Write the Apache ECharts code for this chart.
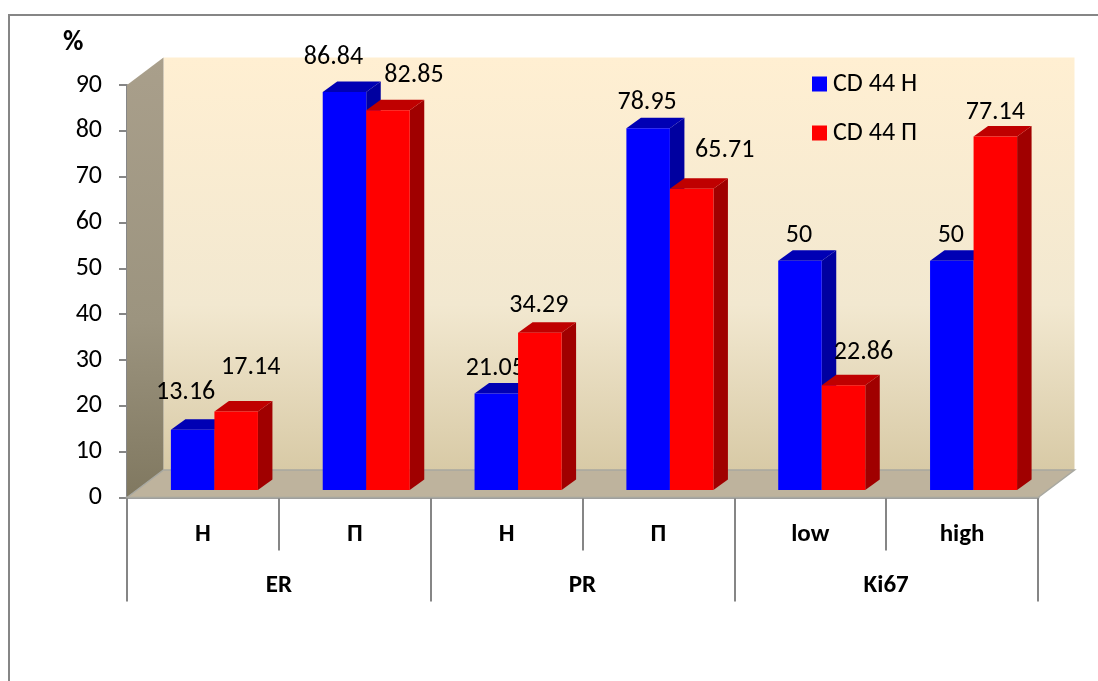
<!DOCTYPE html>
<html>
<head>
<meta charset="utf-8">
<style>html,body{margin:0;padding:0;background:#fff}#chart{width:1098px;height:681px}</style>
<script src="https://cdn.jsdelivr.net/npm/echarts@6/dist/echarts.min.js"></script>
</head>
<body>
<div id="chart"></div>
<script>
// Share of CD44 status across receptor and Ki67 subgroups
const categories = ['Н', 'П', 'Н', 'П', 'low', 'high'];
const groups = ['ER', 'PR', 'Ki67'];
const negativeValues = [13.16, 86.84, 21.05, 78.95, 50, 50];
const positiveValues = [17.14, 82.85, 34.29, 65.71, 22.86, 77.14];
const yTicksMax = 90;

// Hand-placed value labels: pixels away from the top centre of each bar's face
const negativeLabelShift = [[-7,-37],[-11,-34],[-1,-25],[-1,-26],[-1,-25],[-1,-25]];
const positiveLabelShift = [[14.5,-44],[26,-35],[-1,-27],[33,-38],[20,-33],[0,-24]];

const FONT = 'Carlito, Lato, "Open Sans", sans-serif';
const DEPTH_X = 36.5, DEPTH_Y = 27.5;      // box depth on screen
const BAR_DX = 14.5, BAR_DY = 10.5;        // bar depth on screen
const PLANE_DX = 0.0757, PLANE_DY = 7.5;   // bars stand forward of the back wall
const BAR_W = 0.2866;                      // bar width as a share of the band

function poly(points, fill) {
  return { type: 'polygon', shape: { points }, style: { fill } };
}

// Back wall, side wall and floor of the box, taken from the grid rectangle
function renderBox(params) {
  const c = params.coordSys, l = c.x, t = c.y, r = c.x + c.width, b = c.y + c.height;
  const vertical = (stops) => ({ type: 'linear', x: 0, y: 0, x2: 0, y2: 1, colorStops: stops });
  const wall = poly([[l + DEPTH_X, t - DEPTH_Y], [r + DEPTH_X, t - DEPTH_Y], [r + DEPTH_X, b - DEPTH_Y], [l + DEPTH_X, b - DEPTH_Y]],
    vertical([{ offset: 0, color: '#FFEFD2' }, { offset: 0.6, color: '#F2E8D0' }, { offset: 1, color: '#D8CAA6' }]));
  const side = poly([[l, t], [l + DEPTH_X, t - DEPTH_Y], [l + DEPTH_X, b - DEPTH_Y], [l, b]],
    vertical([{ offset: 0, color: '#A99F8B' }, { offset: 0.6, color: '#9C947F' }, { offset: 1, color: '#807860' }]));
  const floor = poly([[l, b], [l + DEPTH_X, b - DEPTH_Y], [r + DEPTH_X, b - DEPTH_Y], [r, b]], '#BEB39D');
  floor.style.stroke = '#A8A8A0';
  floor.style.lineWidth = 1.5;
  return { type: 'group', children: [wall, side, floor] };
}

// One sheared 3D bar with its value label; slot 0 stands left of the band's midpoint, slot 1 right
function makeBarRenderer(slot, face, top, side, shifts) {
  return function (params, api) {
    const i = api.value(0), v = api.value(1);
    const band = api.size([1, 0])[0];
    const w = band * BAR_W;
    const base = api.coord([i, 0]);
    const head = api.coord([i, v]);
    const x0 = base[0] + band * PLANE_DX - w + slot * w;
    const x1 = x0 + w;
    const y0 = head[1] - PLANE_DY;
    const y1 = base[1] - PLANE_DY;
    const dx = BAR_DX, dy = BAR_DY;
    const shift = shifts[params.dataIndex];
    return {
      type: 'group',
      children: [
        poly([[x1, y0], [x1 + dx, y0 - dy], [x1 + dx, y1 - dy], [x1, y1]], side),
        poly([[x0, y0], [x0 + dx, y0 - dy], [x1 + dx, y0 - dy], [x1, y0]], top),
        poly([[x0, y0], [x1, y0], [x1, y1], [x0, y1]], face),
        {
          type: 'text', z2: 10,
          style: {
            x: (x0 + x1) / 2 + shift[0], y: y0 + shift[1],
            text: String(v), fill: '#000', font: '26px ' + FONT,
            align: 'center', verticalAlign: 'middle'
          }
        }
      ]
    };
  };
}

const axisGrey = { color: '#868686', width: 2 };
const chart = echarts.init(document.getElementById('chart'), null, { renderer: 'canvas' });
chart.setOption({
  animation: false,
  backgroundColor: '#fff',
  graphic: [{
    type: 'rect', silent: true, z: -10,
    shape: { x: 9, y: 15, width: 1300, height: 900 },
    style: { fill: '#fff', stroke: '#868686', lineWidth: 2 }
  }],
  title: {
    text: '%', left: 63, top: 29, padding: 0,
    textStyle: { fontFamily: FONT, fontSize: 28, fontWeight: 'bold', color: '#000' }
  },
  legend: {
    orient: 'vertical', left: 812, top: 71, padding: 0, itemGap: 23,
    itemWidth: 15, itemHeight: 15, icon: 'rect',
    data: ['CD 44 Н', 'CD 44 П'],
    textStyle: { fontFamily: FONT, fontSize: 26, color: '#000', padding: [0, 0, 0, 1] }
  },
  grid: { left: 127, top: 85, width: 911, height: 412.5 },
  xAxis: [{
    type: 'category', data: categories, position: 'bottom',
    axisLine: { lineStyle: { color: '#9C9C9C', width: 3 } },
    axisTick: { show: true, length: 53, lineStyle: axisGrey },
    axisLabel: { margin: 25, color: '#000', fontFamily: FONT, fontSize: 25, fontWeight: 'bold', interval: 0 }
  }, {
    type: 'category', data: groups, position: 'bottom',
    axisLine: { show: false },
    axisTick: { show: true, length: 104, lineStyle: axisGrey },
    axisLabel: { margin: 76, color: '#000', fontFamily: FONT, fontSize: 25, fontWeight: 'bold', interval: 0 }
  }],
  yAxis: {
    type: 'value', min: 0, max: yTicksMax, interval: 10,
    axisLine: { show: true, lineStyle: axisGrey },
    axisTick: { show: true, length: 8, lineStyle: axisGrey },
    splitLine: { show: false },
    axisLabel: { margin: 25, color: '#000', fontFamily: FONT, fontSize: 26, padding: [7, 0, 0, 0] }
  },
  series: [{
    type: 'custom', name: 'box', silent: true, z: 1, clip: false,
    data: [[0, 0]], renderItem: renderBox
  }, {
    type: 'custom', name: 'CD 44 Н', z: 2, clip: false,
    itemStyle: { color: '#0000FF' },
    encode: { x: 0, y: 1 },
    data: negativeValues.map((v, i) => [i, v]),
    renderItem: makeBarRenderer(0, '#0000FF', '#0000B4', '#0000A0', negativeLabelShift)
  }, {
    type: 'custom', name: 'CD 44 П', z: 3, clip: false,
    itemStyle: { color: '#FF0000' },
    encode: { x: 0, y: 1 },
    data: positiveValues.map((v, i) => [i, v]),
    renderItem: makeBarRenderer(1, '#FF0000', '#BF0000', '#A00000', positiveLabelShift)
  }]
});
</script>
</body>
</html>
